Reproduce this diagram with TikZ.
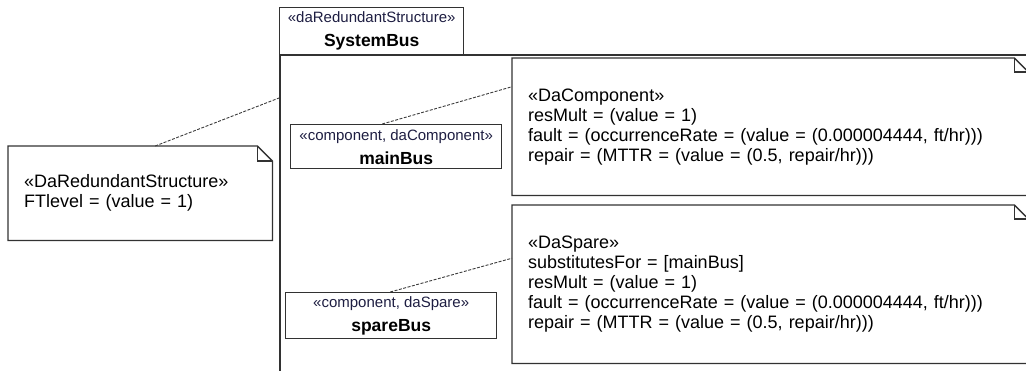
\documentclass[tikz,border=0pt]{standalone}
\usepackage{fontspec}
\setmainfont{Liberation Sans}
\definecolor{linegray}{RGB}{50,50,50}
\definecolor{stereoblue}{RGB}{30,30,66}
\definecolor{dashgray}{RGB}{60,60,60}
\begin{document}
\begin{tikzpicture}[x=1pt,y=-1pt,
  classbox/.style={draw=linegray,line width=1.4pt,fill=white,align=center,inner sep=0pt,anchor=north west,
    font=\fontsize{17.5}{24}\selectfont},
  notebox/.style={inner xsep=16pt,inner ysep=0pt,align=left,anchor=north west,
    font=\fontsize{18}{20}\selectfont},
  noteline/.style={draw=linegray,line width=1.3pt,line join=miter},
  link/.style={draw=dashgray,line width=0.9pt,dash pattern=on 3pt off 1.5pt}]
\newcommand\stereotxt[1]{{\color{stereoblue}\fontsize{15}{24}\selectfont #1}}
\newcommand\nametxt[1]{{\bfseries #1}}
\useasboundingbox (0,0) rectangle (1026,370);
\clip (0,0) rectangle (1026,370);

% package SystemBus: name tab and body
\node[classbox,minimum width=184pt,minimum height=47pt] (tab) at (279,7)
  {\stereotxt{«daRedundantStructure»}\\\nametxt{SystemBus}};
\node[draw=linegray,line width=1.6pt,anchor=north west,minimum width=800pt,minimum height=360pt,inner sep=0pt] (sysbus) at (279,54) {};

% parts
\node[classbox,minimum width=211pt,minimum height=44pt] (mainbus) at (290,124)
  {\stereotxt{«component, daComponent»}\\\nametxt{mainBus}};
\node[classbox,minimum width=211pt,minimum height=46pt] (sparebus) at (285,292)
  {\stereotxt{«component, daSpare»}\\\nametxt{spareBus}};

% comment notes
\node[notebox,text width=232pt,minimum height=94pt] (ftnote) at (8,146)
  {«DaRedundantStructure»\\FTlevel = (value = 1)};
\node[notebox,text width=484pt,minimum height=137pt] (compnote) at (512,58)
  {«DaComponent»\\resMult = (value = 1)\\fault = (occurrenceRate = (value = (0.000004444, ft/hr)))\\repair = (MTTR = (value = (0.5, repair/hr)))};
\node[notebox,text width=484pt,minimum height=158pt] (sparenote) at (512,205)
  {«DaSpare»\\substitutesFor = [mainBus]\\resMult = (value = 1)\\fault = (occurrenceRate = (value = (0.000004444, ft/hr)))\\repair = (MTTR = (value = (0.5, repair/hr)))};

% folded-corner outlines of the notes
\foreach \n/\f in {ftnote/15,compnote/14,sparenote/14}{
  \draw[noteline] (\n.north west) -- ([xshift=-\f pt]\n.north east)
    -- ([yshift=-\f pt]\n.north east) -- (\n.south east) -- (\n.south west) -- cycle;
  \draw[noteline] ([xshift=-\f pt]\n.north east) -- ([xshift=-\f pt,yshift=-\f pt]\n.north east)
    -- ([yshift=-\f pt]\n.north east);
}

% anchored note connectors
\coordinate (sysside) at (279,98);
\draw[link] ([xshift=15pt]ftnote.north) -- (sysside);
\draw[link] ([xshift=-14pt]mainbus.north) -- ([yshift=40pt]compnote.west);
\draw[link] ([xshift=-1pt]sparebus.north) -- ([yshift=26pt]sparenote.west);
\end{tikzpicture}
\end{document}
